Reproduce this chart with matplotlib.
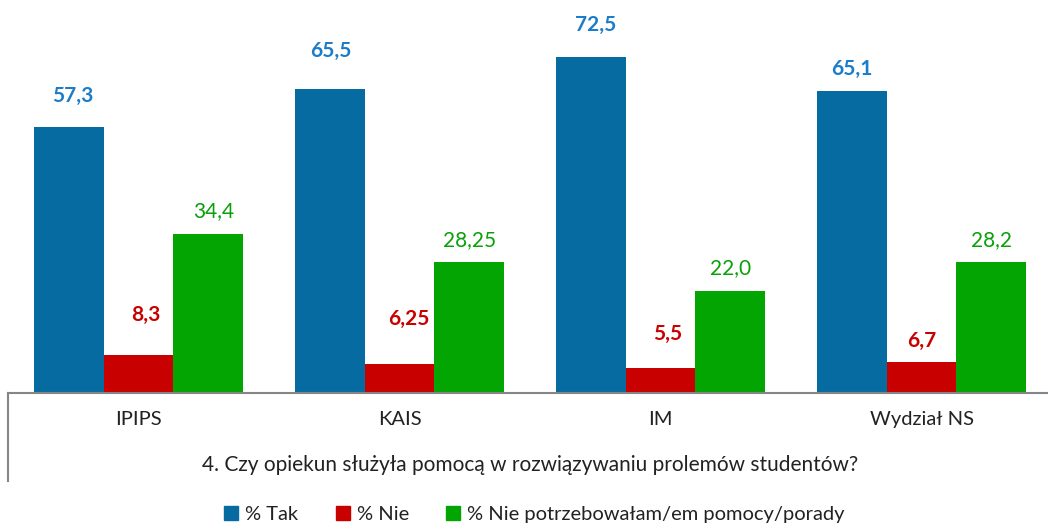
import matplotlib
matplotlib.use("Agg")
import matplotlib.pyplot as plt
from matplotlib.lines import Line2D
import numpy as np

categories = ["IPIPS", "KAIS", "IM", "Wydział NS"]
tak = [57.3, 65.5, 72.5, 65.1]
nie = [8.3, 6.25, 5.5, 6.7]
nie_potrz = [34.4, 28.25, 22.0, 28.2]
tak_labels = ["57,3", "65,5", "72,5", "65,1"]
nie_labels = ["8,3", "6,25", "5,5", "6,7"]
nie_potrz_labels = ["34,4", "28,25", "22,0", "28,2"]
series_names = ["% Tak", "% Nie", "% Nie potrzebowałam/em pomocy/porady"]
title = "4. Czy opiekun służyła pomocą w rozwiązywaniu prolemów studentów?"

# label offsets in pixels (dx, dy above bar top)
tak_off = [(4, 31), (1, 38), (5, 32), (0, 22)]
nie_off = [(7, 40), (9, 45), (7, 34), (0, 21)]
np_off = [(5, 22), (0, 22), (0, 23), (0, 22)]

plt.rcParams['font.family'] = ['Lato', 'DejaVu Sans']

W, H = 1048, 526
fig = plt.figure(figsize=(W / 100, H / 100), dpi=100)
left_px, base_px = 8, 393
ax = fig.add_axes([left_px / W, (H - base_px) / H, (W - left_px) / W, base_px / H])

cat_px = 261.0
px_per_unit = 336.0 / 72.5
ax.set_xlim(-0.5, -0.5 + (W - left_px) / cat_px)
ax.set_ylim(0, base_px / px_per_unit)

x = np.arange(len(categories))
bw = 0.268
c_tak, c_nie, c_np = "#066BA0", "#C80000", "#03A503"
lc_tak, lc_nie, lc_np = "#1C7CC8", "#C80000", "#08A008"

b1 = ax.bar(x - bw, tak, bw, color=c_tak, zorder=2)
b2 = ax.bar(x, nie, bw, color=c_nie, zorder=2)
b3 = ax.bar(x + bw, nie_potrz, bw, color=c_np, zorder=2)

for bars, labs, offs, col, wt in [(b1, tak_labels, tak_off, lc_tak, 'bold'),
                                  (b2, nie_labels, nie_off, lc_nie, 'bold'),
                                  (b3, nie_potrz_labels, np_off, lc_np, 'normal')]:
    for b, lab, (dx, dy) in zip(bars, labs, offs):
        ax.annotate(lab, (b.get_x() + b.get_width() / 2, b.get_height()),
                    xytext=(dx, dy), textcoords='offset pixels',
                    ha='center', va='center', fontsize=15, fontweight=wt,
                    color=col)

for s in ['top', 'right', 'left']:
    ax.spines[s].set_visible(False)
ax.spines['bottom'].set_color('#868686')
ax.spines['bottom'].set_linewidth(1.5)
ax.set_yticks([])
ax.set_xticks(x)
ax.set_xticklabels(categories, fontsize=14.5, color='#222222')
ax.tick_params(axis='x', length=0, pad=13)

# left divider line of the multi-level axis
fig.add_artist(Line2D([left_px / W, left_px / W], [(H - base_px) / H, (H - 481) / H],
                      color='#868686', lw=1.5))

fig.text(530 / W, 1 - 465 / H, title, ha='center', va='center', fontsize=15,
         color='#222222')

handles = [Line2D([], [], marker='s', ls='none', markersize=10, color=c)
           for c in (c_tak, c_nie, c_np)]
fig.legend(handles, series_names, loc='center', bbox_to_anchor=(534 / W, 1 - 514 / H),
           ncol=3, frameon=False, fontsize=14.5, handlelength=0.8, handletextpad=0.3,
           columnspacing=1.8, labelcolor='#222222')

fig.savefig("out.png", dpi=100)
